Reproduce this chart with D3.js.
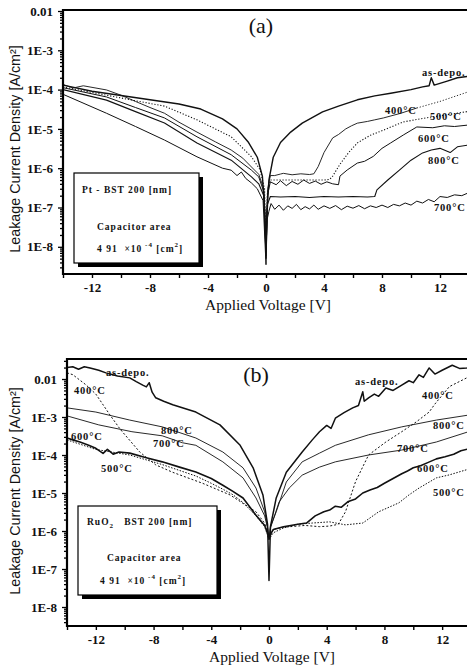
<!DOCTYPE html>
<html><head><meta charset="utf-8">
<script src="https://cdn.jsdelivr.net/npm/d3@7"></script>
<style>body{margin:0;background:#fff}svg{display:block}</style>
</head><body>
<svg id="c" width="467" height="668"></svg>
<script>
// ---------- data ----------
const seriesNames = ["as-depo.", "400°C", "500°C", "600°C", "700°C", "800°C"];
const xTickLabeled = [-12, -8, -4, 0, 4, 8, 12];
const xTickAll = [-14, -12, -10, -8, -6, -4, -2, 0, 2, 4, 6, 8, 10, 12, 14];
const yTickValues = [1e-8, 1e-7, 1e-6, 1e-5, 1e-4, 1e-3, 1e-2];
const yTickLabels = ["1E-8", "1E-7", "1E-6", "1E-5", "1E-4", "1E-3", "0.01"];
const xTitle = "Applied Voltage [V]";
const yTitle = "Leakage Current Density [A/cm²]";

// Panel (a): Pt electrode, [V, J(A/cm2)]
const aAsDepo = [[-14,1.3e-4],[-12,9.1e-5],[-10,7.1e-5],[-8,5.5e-5],[-6,4.3e-5],[-4.5,3.2e-5],[-3,1.8e-5],[-2,1.0e-5],[-1.2,4.5e-6],[-0.6,1.9e-6],[-0.25,6.3e-7],[-0.08,8e-8],[0,6e-9],[0.06,6e-8],[0.2,5e-7],[0.5,1.9e-6],[1,4.5e-6],[1.7,8.3e-6],[2.5,1.4e-5],[3.9,2.7e-5],[5,3.8e-5],[6.3,5.5e-5],[7.5,6.9e-5],[8.6,8.1e-5],[10,1.0e-4],[10.8,1.17e-4],[11.25,1.25e-4],[11.4,2.0e-4],[11.6,1.3e-4],[12.5,1.65e-4],[13.2,2.0e-4],[14,2.2e-4]];
const a400 = [[-14,1.35e-4],[-13.3,1.1e-4],[-12.6,1.25e-4],[-11,9.8e-5],[-10,7.2e-5],[-9,5.0e-5],[-8,3.5e-5],[-7,2.5e-5],[-6,1.48e-5],[-4.76,8.3e-6],[-3.5,4.7e-6],[-2.4,2.9e-6],[-1.6,1.8e-6],[-1.0,1.07e-6],[-0.5,7e-7],[-0.15,3e-7],[0,1e-8],[0.12,3e-7],[0.3,6.5e-7],[0.6,6.5e-7],[1.0,7.1e-7],[1.2,7.4e-7],[1.8,6.8e-7],[2.4,7.2e-7],[3.0,6.9e-7],[3.3,7.2e-7],[3.6,1.1e-6],[4.0,2.5e-6],[4.6,5.9e-6],[5.0,7.2e-6],[5.5,1.0e-5],[5.9,1.2e-5],[6.3,1.4e-5],[7.0,1.55e-5],[7.5,1.7e-5],[8.1,1.9e-5],[9.3,2.5e-5],[10.4,3.4e-5],[12,5.0e-5],[14,8.9e-5]];
const a500 = [[-14,1.17e-4],[-11,7.2e-5],[-9,5.2e-5],[-7,3.8e-5],[-4.76,1.7e-5],[-2.4,6.3e-6],[-1.0,1.95e-6],[-0.4,9e-7],[-0.1,3e-7],[0,2e-8],[0.1,2.5e-7],[0.3,5e-7],[1,5e-7],[2,5e-7],[3,5e-7],[4.0,5e-7],[4.4,5.2e-7],[4.6,6.3e-7],[5.1,1.26e-6],[5.7,2.5e-6],[6.3,4.4e-6],[7.2,6.9e-6],[8.1,9.3e-6],[9.45,1.5e-5],[11,1.9e-5],[12.5,2.3e-5],[14,2.8e-5]];
const a600 = [[-14,1.12e-4],[-11,6.5e-5],[-9,3.5e-5],[-7,1.9e-5],[-4.76,6.3e-6],[-2.4,2.2e-6],[-1.0,8.9e-7],[-0.5,6e-7],[-0.15,2.5e-7],[0,5e-9],[0.1,2e-7],[0.3,4.5e-7],[0.7,3.8e-7],[1.0,4.8e-7],[1.4,3.6e-7],[1.8,4.6e-7],[2.2,3.9e-7],[2.6,5e-7],[3.0,4.1e-7],[3.4,4.7e-7],[3.8,3.9e-7],[4.2,4.5e-7],[4.6,4.0e-7],[5.0,3.8e-7],[5.1,6.3e-7],[5.6,9e-7],[6.3,1.35e-6],[6.8,1.5e-6],[7.4,2.0e-6],[8.0,3.2e-6],[8.6,4.4e-6],[9.5,7.1e-6],[10.4,1.12e-5],[11.5,1.07e-5],[12.3,1.2e-5],[13,1.15e-5],[14,1.26e-5]];
const a700 = [[-14,7.6e-5],[-11,2.5e-5],[-9,1.15e-5],[-7,5.2e-6],[-4.76,1.95e-6],[-3,1.0e-6],[-2.4,8.9e-7],[-2.0,6.5e-7],[-1.7,8e-7],[-1.4,5.5e-7],[-1.0,4.2e-7],[-0.6,3e-7],[-0.2,1.5e-7],[0,3.5e-9],[0.08,5e-8],[0.2,8e-8],[0.35,1.26e-7],[0.6,9e-8],[0.9,1.15e-7],[1.2,8.5e-8],[1.5,1.1e-7],[1.8,9.5e-8],[2.1,1.2e-7],[2.4,8.8e-8],[2.7,1.05e-7],[3.0,9.2e-8],[3.3,1.15e-7],[3.6,9e-8],[4.0,1.1e-7],[4.4,9.5e-8],[4.8,1.12e-7],[5.2,8.8e-8],[5.6,1.08e-7],[6.0,9.6e-8],[6.4,1.12e-7],[6.8,9.3e-8],[7.2,1.1e-7],[7.6,1.0e-7],[8.0,1.15e-7],[8.4,1.0e-7],[8.8,1.2e-7],[9.2,1.1e-7],[9.6,1.3e-7],[10.0,1.15e-7],[10.4,1.45e-7],[10.8,1.3e-7],[11.2,1.6e-7],[11.6,1.4e-7],[12,1.9e-7],[12.5,1.8e-7],[13,2.1e-7],[13.5,2.0e-7],[14,2.4e-7]];
const a800 = [[-14,1.0e-4],[-11,5.4e-5],[-9,2.75e-5],[-7,1.41e-5],[-4.76,4.4e-6],[-2.4,1.6e-6],[-1.0,6e-7],[-0.5,4e-7],[-0.15,2e-7],[0,8e-9],[0.1,1.2e-7],[0.3,1.9e-7],[1,1.85e-7],[2,1.9e-7],[3,1.8e-7],[4,1.9e-7],[5,1.85e-7],[6,1.9e-7],[7,1.85e-7],[7.5,1.9e-7],[7.65,2.8e-7],[8.4,5.0e-7],[9.2,8.9e-7],[10,1.6e-6],[10.8,2.45e-6],[11.4,2.9e-6],[12,3.2e-6],[12.7,2.5e-6],[13.2,3.5e-6],[14,3.9e-6]];

// Panel (b): RuO2 electrode, [V, J(A/cm2)]
const bAsDepo = [[-14,2.0e-2],[-13.6,2.1e-2],[-13.2,1.8e-2],[-12.8,2.1e-2],[-12.4,1.95e-2],[-11.8,1.7e-2],[-11.3,1.45e-2],[-10.5,1.2e-2],[-9.65,1.07e-2],[-9.2,8.5e-3],[-8.75,6.9e-3],[-8.5,6.2e-3],[-8.3,8.0e-3],[-8.1,4.5e-3],[-7.85,3.2e-3],[-7.3,2.6e-3],[-6.67,2.1e-3],[-5.07,1.35e-3],[-3.4,6.2e-4],[-2.0,1.8e-4],[-1.1,4.6e-5],[-0.42,8.9e-6],[-0.1,1.5e-6],[0,5e-8],[0.1,1.3e-6],[0.5,7.4e-6],[1.2,3.5e-5],[2.3,1.2e-4],[3.0,2.5e-4],[3.5,4.1e-4],[4.0,6e-4],[4.3,5.0e-4],[4.6,9.3e-4],[5.2,1.3e-3],[5.8,1.74e-3],[6.2,2.0e-3],[6.5,4.6e-3],[6.6,2.6e-3],[6.9,3.2e-3],[7.3,4.0e-3],[7.6,3.5e-3],[8.1,5.8e-3],[8.6,5.0e-3],[9.2,6.9e-3],[9.7,9e-3],[10.0,8e-3],[10.4,1.29e-2],[10.7,1.1e-2],[11.1,1.95e-2],[11.5,1.35e-2],[12.0,1.7e-2],[12.7,2.3e-2],[13.2,1.9e-2],[13.7,1.95e-2],[14,2.0e-2]];
const b400 = [[-14,1.45e-2],[-13.6,1.3e-2],[-12.7,7.1e-3],[-12,4e-3],[-11,1.1e-3],[-10.3,4.7e-4],[-8.96,1.2e-4],[-7.85,5.5e-5],[-6.67,3.5e-5],[-4.6,1.8e-5],[-2.7,8.9e-6],[-0.9,3.2e-6],[-0.3,1.6e-6],[0,6e-7],[0.3,1.1e-6],[1,1.26e-6],[2.5,1.4e-6],[3.5,1.3e-6],[4.2,1.35e-6],[4.8,1.5e-6],[5.3,3.2e-6],[6.0,2.0e-5],[6.9,1.0e-4],[8.1,2.2e-4],[9.2,4.1e-4],[10.2,7.4e-4],[11.1,1.35e-3],[11.5,2.2e-3],[12.5,6.3e-3],[13.7,1.07e-2],[14,1.15e-2]];
const b500 = [[-14,2.5e-4],[-12,1.4e-4],[-9.65,1.0e-4],[-7.4,5.6e-5],[-5.07,2.8e-5],[-4,1.8e-5],[-3.2,1.26e-5],[-2.5,9e-6],[-1.8,5.6e-6],[-0.9,2.5e-6],[-0.3,1.3e-6],[0,6e-7],[0.3,9e-7],[1,1.2e-6],[2,1.5e-6],[3,1.62e-6],[4.2,1.74e-6],[5.3,1.45e-6],[6.5,1.62e-6],[7.6,3.2e-6],[9.0,5.5e-6],[9.7,8.9e-6],[10.4,1.35e-5],[11.6,2.5e-5],[12.5,3e-5],[13.7,4.1e-5],[14,4.3e-5]];
const b600 = [[-14,2.8e-4],[-13.6,2.5e-4],[-13.1,2.2e-4],[-12.5,1.8e-4],[-12,1.5e-4],[-11.5,1.1e-4],[-11.2,1.4e-4],[-10.8,1.05e-4],[-10.4,1.2e-4],[-9.65,1.12e-4],[-8.5,8.5e-5],[-7.4,6.6e-5],[-6.2,4.8e-5],[-5.07,3.55e-5],[-4,2.4e-5],[-3.2,1.6e-5],[-2.5,1.1e-5],[-1.8,7.4e-6],[-0.9,2.6e-6],[-0.3,1.4e-6],[0,7e-7],[0.3,1.1e-6],[1,1.3e-6],[2.0,1.5e-6],[2.6,1.62e-6],[3.2,2.5e-6],[3.8,3.2e-6],[4.2,3.55e-6],[4.6,4.5e-6],[5.0,4.2e-6],[5.5,6e-6],[6.0,7e-6],[6.5,1.0e-5],[7.0,1.2e-5],[7.5,1.4e-5],[8.0,1.8e-5],[8.6,2.4e-5],[9.2,3.2e-5],[9.6,3.8e-5],[10,4.6e-5],[10.5,5.2e-5],[11,6.3e-5],[11.6,7.9e-5],[12.2,9e-5],[12.8,1.05e-4],[13.3,1.3e-4],[14,1.5e-4]];
const b700 = [[-14,1.07e-3],[-11.8,6.2e-4],[-9.5,4.1e-4],[-7.4,3.2e-4],[-6,2.1e-4],[-5.07,1.8e-4],[-3.2,6.6e-5],[-1.8,2.5e-5],[-0.9,7.4e-6],[-0.3,2.5e-6],[-0.1,1.2e-6],[0,6e-7],[0.1,1.2e-6],[0.7,5.8e-6],[1.4,1.35e-5],[2.3,2.95e-5],[3.5,4.8e-5],[4.6,6.6e-5],[6.9,1.0e-4],[9.2,1.35e-4],[11.6,2.2e-4],[14,4.3e-4]];
const b800 = [[-14,1.74e-3],[-12,1.35e-3],[-9.65,8.3e-4],[-7.4,5.5e-4],[-5.07,2.8e-4],[-3.2,1.2e-4],[-1.8,4.6e-5],[-0.9,1.35e-5],[-0.3,3.2e-6],[-0.1,1.3e-6],[0,6e-7],[0.1,1.3e-6],[0.5,3.2e-6],[1.2,1.95e-5],[2.3,6.6e-5],[3.5,1.12e-4],[4.6,1.8e-4],[6.9,3.4e-4],[9.2,5.5e-4],[11.6,8.3e-4],[14,1.15e-3]];

// ---------- drawing ----------
const svg = d3.select("#c");
const SERIF = "'Liberation Serif','Times New Roman',serif";
const SANS = "'Liberation Sans',Arial,sans-serif";
const NB = "\u00a0";

function drawPanel(p) {
  const g = svg.append("g");
  const x = d3.scaleLinear().domain([-14, 14]).range(p.xr);
  const y = d3.scaleLog().domain([1e-8, 1e-2]).range(p.yr);
  const clipId = "clip" + p.id;
  svg.append("clipPath").attr("id", clipId).append("rect")
    .attr("x", p.xr[0]).attr("y", p.top).attr("width", p.xr[1] - p.xr[0]).attr("height", p.bottom - p.top);

  const line = d3.line().x(d => x(d[0])).y(d => y(d[1]));
  const cg = g.append("g").attr("clip-path", `url(#${clipId})`);
  p.series.forEach(s => {
    const parts = s.dotFrom != null
      ? [{d: s.data.filter(d => d[0] <= s.dotFrom), dash: s.dash}, {d: s.data.filter(d => d[0] >= s.dotFrom), dash: "1.2,1.8"}]
      : [{d: s.data, dash: s.dash}];
    parts.forEach(pt => {
      cg.append("path").attr("d", line(pt.d)).attr("fill", "none")
        .attr("stroke", "#111").attr("stroke-width", s.w)
        .attr("stroke-linejoin", "round")
        .attr("stroke-dasharray", pt.dash || null);
    });
  });

  // frame
  const fr = g.append("g").attr("stroke", "#000").attr("stroke-width", 2.2);
  fr.append("line").attr("x1", p.xr[0]).attr("x2", p.xr[1]).attr("y1", p.top).attr("y2", p.top);
  fr.append("line").attr("x1", p.xr[0]).attr("x2", p.xr[1]).attr("y1", p.bottom).attr("y2", p.bottom);
  fr.append("line").attr("x1", p.xr[0]).attr("x2", p.xr[0]).attr("y1", p.top - 1).attr("y2", p.bottom + 1);

  // y axis
  const minors = [];
  for (let e = -9; e <= -2; e++) for (let m = 2; m <= 9; m++) {
    const v = m * Math.pow(10, e);
    if (y(v) >= p.top && y(v) <= p.bottom) minors.push(v);
  }
  const yMin = g.append("g").attr("transform", `translate(${p.xr[0]},0)`)
    .call(d3.axisLeft(y).tickValues(minors).tickSize(3).tickFormat(""));
  yMin.select(".domain").remove();
  const yAx = g.append("g").attr("transform", `translate(${p.xr[0]},0)`)
    .call(d3.axisLeft(y).tickValues(yTickValues).tickSize(5).tickPadding(5)
      .tickFormat((d, i) => yTickLabels[i]));
  yAx.select(".domain").remove();
  g.selectAll(".tick line").attr("stroke-width", 1.3);
  yAx.selectAll("text").attr("font-family", SERIF).attr("font-size", 13).attr("font-weight", "bold").attr("fill", "#111");

  // x axis
  const xAx = g.append("g").attr("transform", `translate(0,${p.bottom})`)
    .call(d3.axisBottom(x).tickValues(xTickAll).tickSize(4).tickPadding(5)
      .tickFormat(d => xTickLabeled.includes(d) ? String(d) : ""));
  xAx.select(".domain").remove();
  xAx.selectAll(".tick line").attr("stroke-width", 1.4);
  xAx.selectAll("text").attr("font-family", SERIF).attr("font-size", 13).attr("font-weight", "bold").attr("fill", "#111");

  // titles
  g.append("text").attr("x", p.xt[0]).attr("y", p.xt[1]).attr("text-anchor", "middle")
    .attr("font-family", SERIF).attr("font-size", 15.5).attr("fill", "#111").text(xTitle);
  g.append("text").attr("transform", `translate(${p.yt[0]},${p.yt[1]}) rotate(-90)`).attr("text-anchor", "middle")
    .attr("font-family", SANS).attr("font-size", 14.3).attr("fill", "#111").text(yTitle);
  g.append("text").attr("x", p.tag[0]).attr("y", p.tag[1]).attr("text-anchor", "middle")
    .attr("font-family", SERIF).attr("font-size", 22).attr("fill", "#111").text(p.tag[2]);

  // curve labels
  p.labels.forEach(l => {
    g.append("text").attr("x", l[1]).attr("y", l[2])
      .attr("font-family", SERIF).attr("font-size", 10.5).attr("font-weight", "bold")
      .attr("letter-spacing", 0.8).attr("fill", "#111").text(seriesNames[l[0]]);
  });

  // legend box
  const L = p.legend;
  g.append("rect").attr("x", L.x + 4).attr("y", L.y + 4).attr("width", L.w).attr("height", L.h).attr("fill", "#000");
  g.append("rect").attr("x", L.x).attr("y", L.y).attr("width", L.w).attr("height", L.h)
    .attr("fill", "#fff").attr("stroke", "#000").attr("stroke-width", 1.2);
  const lt = (xx, yy) => g.append("text").attr("x", xx).attr("y", yy)
    .attr("font-family", SERIF).attr("font-size", 9.5).attr("font-weight", "bold")
    .attr("letter-spacing", 1).attr("fill", "#111");
  const t1 = lt(L.x + L.l1[0], L.y + L.l1[1]);
  L.line1(t1);
  lt(L.x + L.l2[0], L.y + L.l2[1]).text("Capacitor area");
  const t3 = lt(L.x + L.l3[0], L.y + L.l3[1]);
  t3.append("tspan").text("4 91" + NB + NB + "×10");
  t3.append("tspan").attr("dy", -5).attr("font-size", 7).text(NB + "-4");
  t3.append("tspan").attr("dy", 5).text(NB + "[cm");
  t3.append("tspan").attr("dy", -5).attr("font-size", 7).text("2");
  t3.append("tspan").attr("dy", 5).text("]");
}

drawPanel({
  id: "a", xr: [63, 469], yr: [246.8, 11], top: 10, bottom: 274,
  xt: [268, 310], yt: [20, 149], tag: [261, 33, "(a)"],
  series: [
    {data: aAsDepo, w: 1.4},
    {data: a400, w: 0.9, dotFrom: 10.4},
    {data: a500, w: 1.1, dash: "1.2,1.8"},
    {data: a600, w: 1.0},
    {data: a700, w: 1.0},
    {data: a800, w: 1.1}
  ],
  labels: [[0, 422, 76], [1, 385, 114], [2, 430, 120], [3, 418, 142], [5, 428, 164], [4, 434, 211]],
  legend: {x: 74, y: 173, w: 125, h: 90, l1: [8, 20], l2: [23, 57], l3: [23, 79],
    line1: t => t.text("Pt - BST 200 [nm]")}
});

drawPanel({
  id: "b", xr: [67, 471], yr: [607, 379], top: 359, bottom: 626,
  xt: [272, 662], yt: [20, 491], tag: [256, 382, "(b)"],
  series: [
    {data: bAsDepo, w: 1.5},
    {data: b400, w: 1.0, dash: "2,2"},
    {data: b500, w: 1.0, dash: "1.5,1.5"},
    {data: b600, w: 1.6},
    {data: b700, w: 0.9},
    {data: b800, w: 0.9}
  ],
  labels: [[0, 106, 376], [1, 74, 394], [5, 161, 434], [4, 153, 447], [3, 71, 440], [2, 101, 472],
           [0, 355, 385], [1, 422, 399], [5, 433, 429], [4, 397, 452], [3, 417, 472], [2, 433, 496]],
  legend: {x: 78, y: 506, w: 139, h: 89, l1: [9, 19], l2: [29, 55], l3: [22, 78],
    line1: t => { t.append("tspan").text("RuO"); t.append("tspan").attr("dy", 3).attr("font-size", 7).text("2");
                  t.append("tspan").attr("dy", -3).text(NB + NB + NB + "BST 200 [nm]"); }}
});
</script>
</body></html>
